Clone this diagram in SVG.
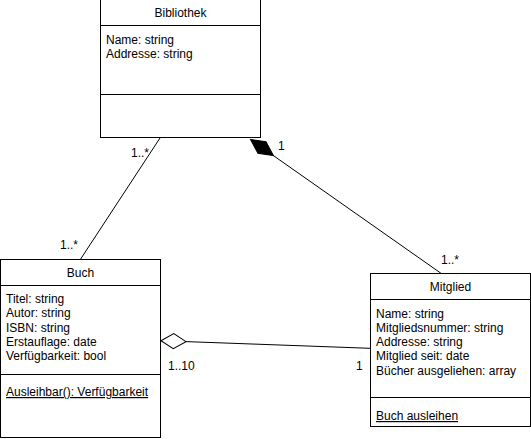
<svg xmlns="http://www.w3.org/2000/svg" width="531" height="439" viewBox="0 0 531 439">
<style>
.box{fill:#fff;stroke:#000;stroke-width:1}
.sep{stroke:#000;stroke-width:1}
text{font-family:"Liberation Sans",Arial,sans-serif;font-size:12px;fill:#000}
.h{text-anchor:middle}
.u{text-decoration:underline}
.edge{fill:none;stroke:#000;stroke-width:1}
</style>
<defs>
<marker id="comp" markerUnits="userSpaceOnUse" markerWidth="30" markerHeight="18" viewBox="-1 -8 30 16" refX="0" refY="0" orient="auto" overflow="visible">
<path d="M0,0 L14,-7 L28,0 L14,7 Z" fill="#000" stroke="#000" stroke-width="1"/>
</marker>
<marker id="agg" markerUnits="userSpaceOnUse" markerWidth="28" markerHeight="18" viewBox="-1 -8 28 16" refX="0" refY="0" orient="auto" overflow="visible">
<path d="M0,0 L12.5,-7.5 L25,0 L12.5,7.5 Z" fill="#fff" stroke="#000" stroke-width="1"/>
</marker>
</defs>
<g id="connectors">
<path class="edge" d="M160,138 L80,260"/>
<path class="edge" d="M250.5,139.5 L442,274" marker-start="url(#comp)"/>
<path class="edge" d="M161,340.7 L370,348.3" marker-start="url(#agg)"/>
<text x="131" y="157">1..*</text>
<text x="60" y="249">1..*</text>
<text x="278" y="150">1</text>
<text x="441" y="264">1..*</text>
<text x="168" y="370">1..10</text>
<text x="356" y="370">1</text>
</g>
<g id="bibliothek">
<rect class="box" x="100.5" y="-0.5" width="160" height="138"/>
<line class="sep" x1="100.5" y1="25.5" x2="260.5" y2="25.5"/>
<line class="sep" x1="100.5" y1="94.5" x2="260.5" y2="94.5"/>
<text class="h" x="180.5" y="17">Bibliothek</text>
<text x="106" y="44">Name: string</text>
<text x="106" y="58">Addresse: string</text>
</g>
<g id="buch">
<rect class="box" x="0.5" y="259.5" width="160" height="178"/>
<line class="sep" x1="0.5" y1="285.5" x2="160.5" y2="285.5"/>
<line class="sep" x1="0.5" y1="374.5" x2="160.5" y2="374.5"/>
<text class="h" x="80.5" y="277">Buch</text>
<text x="6" y="302.5">Titel: string</text>
<text x="6" y="317">Autor: string</text>
<text x="6" y="331.5">ISBN: string</text>
<text x="6" y="346">Erstauflage: date</text>
<text x="6" y="360">Verfügbarkeit: bool</text>
<text class="u" x="6" y="396">Ausleihbar(): Verfügbarkeit</text>
</g>
<g id="mitglied">
<rect class="box" x="370.5" y="273.5" width="160" height="153"/>
<line class="sep" x1="370.5" y1="299.5" x2="530.5" y2="299.5"/>
<line class="sep" x1="370.5" y1="397.5" x2="530.5" y2="397.5"/>
<text class="h" x="450.5" y="291">Mitglied</text>
<text x="376" y="317.5">Name: string</text>
<text x="376" y="332">Mitgliedsnummer: string</text>
<text x="376" y="346">Addresse: string</text>
<text x="376" y="360">Mitglied seit: date</text>
<text x="376" y="374.5">Bücher ausgeliehen: array</text>
<text class="u" x="376" y="420">Buch ausleihen</text>
</g>
</svg>
